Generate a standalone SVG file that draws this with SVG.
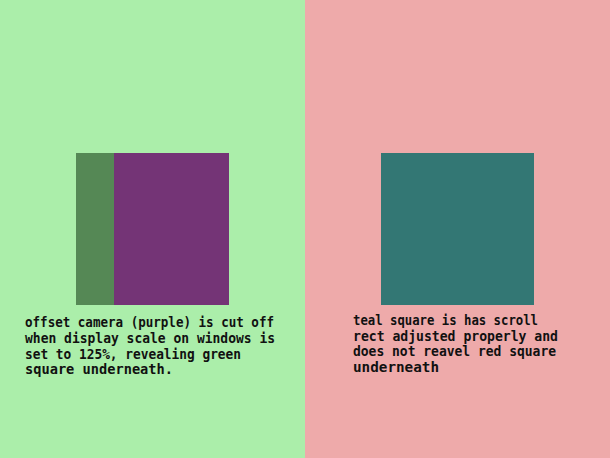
<svg xmlns="http://www.w3.org/2000/svg" width="610" height="458" viewBox="0 0 610 458">
<style>
text{font-family:"DejaVu Sans Mono","Liberation Mono",monospace;font-weight:bold;font-size:14px;fill:#111}
</style>
<g id="left-panel">
<rect x="0" y="0" width="305" height="458" fill="#abeeaa"/>
<rect x="76" y="153" width="38" height="152" fill="#558855"/>
<rect x="114" y="153" width="115" height="152" fill="#743476"/>
<text x="25" y="327" textLength="249" lengthAdjust="spacingAndGlyphs">offset camera (purple) is cut off</text>
<text x="25" y="343" textLength="250" lengthAdjust="spacingAndGlyphs">when display scale on windows is</text>
<text x="25" y="359" textLength="216" lengthAdjust="spacingAndGlyphs">set to 125%, revealing green</text>
<text x="25" y="374" textLength="148" lengthAdjust="spacingAndGlyphs">square underneath.</text>
</g>
<g id="right-panel">
<rect x="305" y="0" width="305" height="458" fill="#eeaaaa"/>
<rect x="381" y="153" width="153" height="152" fill="#337774"/>
<text x="353" y="325" textLength="185" lengthAdjust="spacingAndGlyphs">teal square is has scroll</text>
<text x="353" y="341" textLength="205" lengthAdjust="spacingAndGlyphs">rect adjusted properly and</text>
<text x="353" y="356" textLength="203" lengthAdjust="spacingAndGlyphs">does not reavel red square</text>
<text x="353" y="372" textLength="86" lengthAdjust="spacingAndGlyphs">underneath</text>
</g>
<g id="connectors"/>
</svg>
